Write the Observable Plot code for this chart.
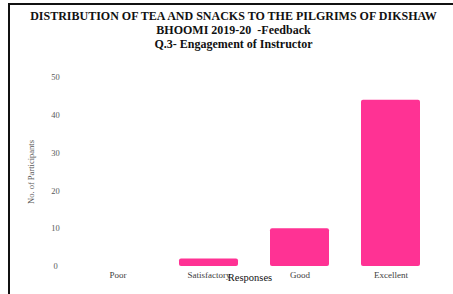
<!DOCTYPE html>
<html>
<head>
<meta charset="utf-8">
<script src="https://cdn.jsdelivr.net/npm/d3@7"></script>
<script src="https://cdn.jsdelivr.net/npm/@observablehq/plot@0.6"></script>
<style>
  html, body { margin: 0; padding: 0; background: #fff; }
  #wrap { position: relative; width: 453px; height: 294px; overflow: hidden; background: #fff; }
  #frame { position: absolute; left: 8px; top: 3px; right: -5px; bottom: -5px; border-top: 2px solid #111; border-left: 2px solid #111; }
  #title { position: absolute; left: 14px; width: 439px; top: 9px; text-align: center;
    font-family: "Liberation Serif", "Times New Roman", serif; font-weight: bold; font-size: 12px; line-height: 14px; color: #111; }
  #chart { position: absolute; left: 0; top: 56px; }
</style>
</head>
<body>
<div id="wrap">
  <div id="frame"></div>
  <div id="title">DISTRIBUTION OF TEA AND SNACKS TO THE PILGRIMS OF DIKSHAW<br>BHOOMI 2019-20&nbsp; -Feedback<br>Q.3- Engagement of Instructor</div>
  <div id="chart"></div>
</div>
<script>
const categories = ["Poor", "Satisfactory", "Good", "Excellent"];
const participants = [0, 2, 10, 44];
const yTicks = [0, 10, 20, 30, 40, 50];
const xLabel = "Responses";
const yLabel = "No. of Participants";

const data = categories.map((c, i) => ({response: c, count: participants[i]}));

const chart = Plot.plot({
  width: 453,
  height: 238,
  marginLeft: 55,
  marginRight: 1,
  marginTop: 21,
  marginBottom: 28,
  style: {fontFamily: "Liberation Serif, Times New Roman, serif", background: "transparent"},
  x: {domain: categories, padding: 0.355},
  y: {domain: [0, 50], ticks: yTicks},
  marks: [
    Plot.barY(data, {x: "response", y: "count", fill: "#ff3294", rx: 2}),
    Plot.axisY({ticks: yTicks, tickSize: 0, tickPadding: 0, textAnchor: "middle", fontSize: 8.5, color: "#595959",
      label: yLabel, labelAnchor: "center", labelOffset: 28, labelArrow: "none"}),
    Plot.axisX({tickSize: 0, tickPadding: 5, fontSize: 9, color: "#404040", label: null}),
    Plot.text([xLabel], {text: d => d, frameAnchor: "bottom", dx: -4, dy: 11, fontSize: 10.5, fill: "#111", lineAnchor: "middle"})
  ]
});
document.getElementById("chart").appendChild(chart);
</script>
</body>
</html>
